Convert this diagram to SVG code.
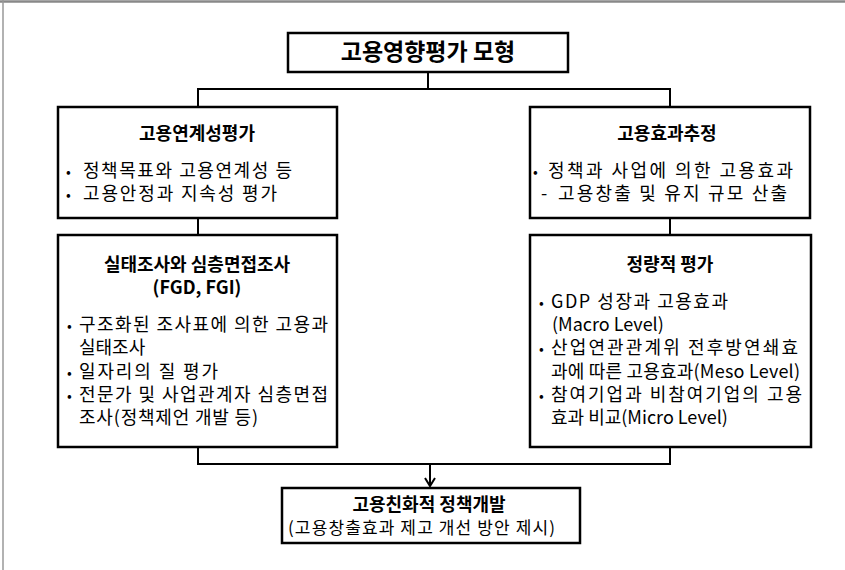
<svg xmlns="http://www.w3.org/2000/svg" width="845" height="570" viewBox="0 0 845 570">
<style>
.box{fill:#fff;stroke:#000;stroke-width:2.5}
.con{fill:none;stroke:#000;stroke-width:2}
.t{font-family:"Noto Sans CJK KR","Liberation Sans",sans-serif;fill:#000}
.h{font-size:18px;font-weight:bold;text-anchor:middle}
.b{font-size:18px}
.bul{font-size:14px}
</style>
<defs>
<marker id="arr" markerWidth="12" markerHeight="12" refX="10" refY="6" orient="auto" markerUnits="userSpaceOnUse">
<polyline points="2,1 10,6 2,11" fill="none" stroke="#000" stroke-width="2"/>
</marker>
</defs>
<rect width="845" height="570" fill="#fff"/>
<line x1="0" y1="1.5" x2="845" y2="1.5" stroke="#888" stroke-width="2.5"/>
<line x1="3" y1="0" x2="3" y2="570" stroke="#999" stroke-width="1.5"/>

<g id="connectors">
<path class="con" d="M428,72 V89 M198,107 V89 H670 V107"/>
<path class="con" d="M198,218 V235 M670,218 V235"/>
<path class="con" d="M198,447 V464 H670 V447"/>
<line class="con" x1="430" y1="464" x2="430" y2="486" marker-end="url(#arr)"/>
</g>

<g id="top">
<rect class="box" x="288" y="33" width="280" height="39"/>
<text class="t" x="428" y="60" font-size="23" font-weight="bold" text-anchor="middle">고용영향평가 모형</text>
</g>

<g id="linkage">
<rect class="box" x="58" y="107" width="279" height="111"/>
<text class="t h" x="197" y="140">고용연계성평가</text>
<text class="t b" y="177"><tspan class="bul" x="66">•</tspan><tspan x="83" textLength="209" lengthAdjust="spacing">정책목표와 고용연계성 등</tspan></text>
<text class="t b" y="200"><tspan class="bul" x="66">•</tspan><tspan x="83" textLength="194" lengthAdjust="spacing">고용안정과 지속성 평가</tspan></text>
</g>

<g id="effect">
<rect class="box" x="530" y="107" width="280" height="111"/>
<text class="t h" x="667" y="140">고용효과추정</text>
<text class="t b" y="177"><tspan class="bul" x="533">•</tspan><tspan x="548" textLength="245" lengthAdjust="spacing">정책과 사업에 의한 고용효과</tspan></text>
<text class="t b" y="200"><tspan x="541">-</tspan><tspan x="558" textLength="229" lengthAdjust="spacing">고용창출 및 유지 규모 산출</tspan></text>
</g>

<g id="survey">
<rect class="box" x="58" y="235" width="279" height="212"/>
<text class="t h" x="197" y="271">실태조사와 심층면접조사</text>
<text class="t h" x="197" y="294">(FGD, FGI)</text>
<text class="t b" y="331"><tspan class="bul" x="67">•</tspan><tspan x="79" textLength="249" lengthAdjust="spacing">구조화된 조사표에 의한 고용과</tspan></text>
<text class="t b" x="79" y="354">실태조사</text>
<text class="t b" y="378"><tspan class="bul" x="67">•</tspan><tspan x="79" textLength="139" lengthAdjust="spacing">일자리의 질 평가</tspan></text>
<text class="t b" y="401"><tspan class="bul" x="67">•</tspan><tspan x="79" textLength="249" lengthAdjust="spacing">전문가 및 사업관계자 심층면접</tspan></text>
<text class="t b" x="79" y="424" textLength="179" lengthAdjust="spacing">조사(정책제언 개발 등)</text>
</g>

<g id="quant">
<rect class="box" x="530" y="235" width="281" height="212"/>
<text class="t h" x="670" y="271">정량적 평가</text>
<text class="t b" y="308"><tspan class="bul" x="539">•</tspan><tspan x="551" textLength="177" lengthAdjust="spacing">GDP 성장과 고용효과</tspan></text>
<text class="t b" x="552" y="331">(Macro Level)</text>
<text class="t b" y="354"><tspan class="bul" x="539">•</tspan><tspan x="551" textLength="247" lengthAdjust="spacing">산업연관관계위 전후방연쇄효</tspan></text>
<text class="t b" x="551" y="378" textLength="249" lengthAdjust="spacing">과에 따른 고용효과(Meso Level)</text>
<text class="t b" y="401"><tspan class="bul" x="539">•</tspan><tspan x="551" textLength="251" lengthAdjust="spacing">참여기업과 비참여기업의 고용</tspan></text>
<text class="t b" x="551" y="424">효과 비교(Micro Level)</text>
</g>

<g id="policy">
<rect class="box" x="282" y="488" width="298" height="55"/>
<text class="t h" x="429" y="511">고용친화적 정책개발</text>
<text class="t" x="288" y="534" font-size="17" textLength="267" lengthAdjust="spacing">(고용창출효과 제고 개선 방안 제시)</text>
</g>
</svg>
